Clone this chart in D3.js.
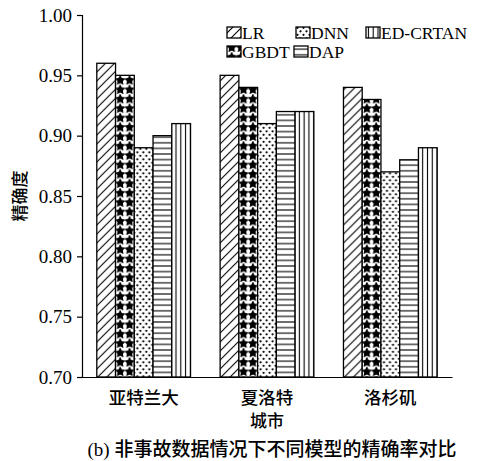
<!DOCTYPE html>
<html>
<head>
<meta charset="utf-8">
<script src="https://cdn.jsdelivr.net/npm/d3@7"></script>
<style>
  body { margin: 0; background: #fff; }
  svg { display: block; }
</style>
</head>
<body>
<svg id="chart" width="477" height="461"></svg>
<script>
// Data
const cities = ["亚特兰大", "夏洛特", "洛杉矶"];
const models = ["LR", "GBDT", "DNN", "DAP", "ED-CRTAN"];
const LR = [0.96, 0.95, 0.94];
const GBDT = [0.95, 0.94, 0.93];
const DNN = [0.89, 0.91, 0.87];
const DAP = [0.90, 0.92, 0.88];
const EDCRTAN = [0.91, 0.92, 0.89];
const yTicks = [0.70, 0.75, 0.80, 0.85, 0.90, 0.95, 1.00];
const seriesValues = [LR, GBDT, DNN, DAP, EDCRTAN];

const svg = d3.select("#chart");
const margin = { left: 82, right: 25, top: 15, bottom: 84 };
const W = 477, H = 461;

const serif = "'Liberation Serif', 'Times New Roman', serif";
const cjk = "'Noto Sans CJK SC', sans-serif";

// Fill patterns, one per model
const defs = svg.append("defs");
function pat(id, w, h, draw) {
  const p = defs.append("pattern").attr("id", id)
    .attr("patternUnits", "userSpaceOnUse").attr("width", w).attr("height", h);
  p.append("rect").attr("width", w).attr("height", h).attr("fill", "#fff");
  draw(p);
}
pat("p-lr", 9, 9, p => {
  p.append("path").attr("d", "M-1,10 L10,-1 M-1,1 L1,-1 M8,10 L10,8")
    .attr("stroke", "#000").attr("stroke-width", 1.1);
});
const starPath = (cx, cy, r) => {
  const pts = [];
  for (let i = 0; i < 10; i++) {
    const a = -Math.PI / 2 + i * Math.PI / 5;
    const rr = i % 2 === 0 ? r : r * 0.5;
    pts.push([cx + rr * Math.cos(a), cy + rr * Math.sin(a)]);
  }
  return "M" + pts.map(d => d.join(",")).join("L") + "Z";
};
pat("p-gbdt", 9.35, 9.4, p => {
  p.append("path").attr("d", starPath(4.7, 5.1, 5.6)).attr("fill", "#000");
});
pat("p-dnn", 6, 7, p => {
  p.append("circle").attr("cx", 1.5).attr("cy", 1.8).attr("r", 1.1).attr("fill", "#000");
  p.append("circle").attr("cx", 4.5).attr("cy", 5.3).attr("r", 1.1).attr("fill", "#000");
});
pat("p-dap", 10, 5.6, p => {
  p.append("line").attr("x1", 0).attr("x2", 10).attr("y1", 2.8).attr("y2", 2.8)
    .attr("stroke", "#000").attr("stroke-width", 1.1);
});
pat("p-ed", 4.8, 10, p => {
  p.append("line").attr("x1", 2.4).attr("x2", 2.4).attr("y1", 0).attr("y2", 10)
    .attr("stroke", "#000").attr("stroke-width", 1.1);
});
const fills = ["url(#p-lr)", "url(#p-gbdt)", "url(#p-dnn)", "url(#p-dap)", "url(#p-ed)"];

// Scales
const x0 = d3.scaleBand().domain(cities)
  .range([margin.left, W - margin.right]).paddingInner(0.24).paddingOuter(0.12);
const x1 = d3.scaleBand().domain(models).range([0, x0.bandwidth()]);
const y = d3.scaleLinear().domain([0.70, 1.00]).range([H - margin.bottom, margin.top]);

// Bars
const groups = svg.append("g").selectAll("g").data(cities).join("g")
  .attr("transform", d => `translate(${x0(d)},0)`);
groups.selectAll("rect")
  .data((c, ci) => models.map((m, mi) => ({ m, mi, v: seriesValues[mi][ci] })))
  .join("rect")
  .attr("x", d => x1(d.m))
  .attr("width", x1.bandwidth())
  .attr("y", d => y(d.v))
  .attr("height", d => y(0.70) - y(d.v))
  .attr("fill", d => fills[d.mi])
  .attr("stroke", "#000")
  .attr("stroke-width", 1.3);

// Y axis
const yAxis = d3.axisLeft(y).tickValues(yTicks).tickFormat(d3.format(".2f"))
  .tickSize(5).tickPadding(5);
const gy = svg.append("g").attr("transform", `translate(${margin.left},0)`).call(yAxis);
gy.select(".domain").attr("stroke", "#000").attr("stroke-width", 1.2);
gy.selectAll(".tick line").attr("stroke", "#000").attr("stroke-width", 1.2);
gy.selectAll(".tick text").attr("font-family", serif).attr("font-size", 19).attr("fill", "#000");

// X axis baseline (no ticks)
const xAxis = d3.axisBottom(x0).tickSize(0).tickPadding(15);
const gx = svg.append("g").attr("transform", `translate(0,${y(0.70)})`).call(xAxis);
gx.select(".domain").attr("stroke", "#000").attr("stroke-width", 1.2);
gx.selectAll(".tick text").attr("font-family", cjk).attr("font-size", 17.5)
  .attr("font-weight", 500).attr("fill", "#000");

// Axis titles
svg.append("text").attr("transform", `translate(18,${(y(1) + y(0.7)) / 2}) rotate(-90)`)
  .attr("text-anchor", "middle").attr("dominant-baseline", "central")
  .attr("font-family", cjk).attr("font-size", 17).attr("font-weight", 500)
  .text("精确度");
svg.append("text").attr("x", x0("夏洛特") + x0.bandwidth() / 2).attr("y", 427)
  .attr("text-anchor", "middle").attr("font-family", cjk).attr("font-size", 17)
  .attr("font-weight", 500).text("城市");

// Caption
const cap = svg.append("text").attr("x", 272).attr("y", 456).attr("text-anchor", "middle")
  .attr("font-size", 19).attr("fill", "#000");
cap.append("tspan").attr("font-family", serif).text("(b) ");
cap.append("tspan").attr("font-family", cjk).attr("font-weight", 500)
  .text("非事故数据情况下不同模型的精确率对比");

// Legend
const legendPos = [
  { x: 227, y: 33 }, { x: 227, y: 52 }, { x: 296, y: 33 }, { x: 294, y: 52 }, { x: 366, y: 33 }
];
const lg = svg.append("g").selectAll("g").data(models).join("g")
  .attr("transform", (d, i) => `translate(${legendPos[i].x},${legendPos[i].y})`);
lg.append("rect").attr("x", 0).attr("y", -6).attr("width", 14).attr("height", 11)
  .attr("fill", (d, i) => fills[i]).attr("stroke", "#000").attr("stroke-width", 1.3);
lg.append("text").attr("x", 15).attr("y", 0).attr("dominant-baseline", "central")
  .attr("font-family", serif).attr("font-size", 17.5).text(d => d);
</script>
</body>
</html>
